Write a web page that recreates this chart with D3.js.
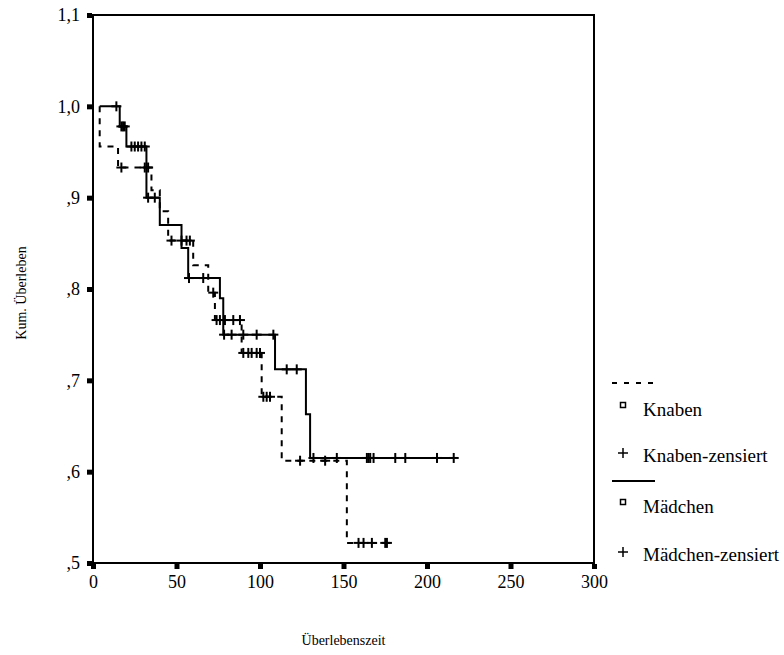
<!DOCTYPE html>
<html>
<head>
<meta charset="utf-8">
<script src="https://cdn.jsdelivr.net/npm/d3@7"></script>
<style>
  html, body { margin: 0; padding: 0; background: #fff; }
  svg { display: block; font-family: "Liberation Serif", "Times New Roman", serif; }
</style>
</head>
<body>
<svg id="chart" width="784" height="655"></svg>
<script>
// Kaplan-Meier survival curves by sex
const startTime = 4;

// Knaben: event times and survival after each event
const knabenEventTimes = [4, 15, 35, 40, 45, 60, 69, 73, 89, 101, 113, 152];
const knabenSurvival   = [0.956, 0.933, 0.908, 0.885, 0.853, 0.826, 0.796, 0.766, 0.730, 0.682, 0.612, 0.522];
const knabenEndTime = 176;
const knabenCensored = [17, 31, 33, 47, 53, 56, 58, 72, 74, 76, 79, 84, 88, 90, 93, 95, 98, 100,
                        102, 104, 106, 124, 139, 159, 162, 167, 175, 176];

// Mädchen: event times and survival after each event
const maedchenEventTimes = [16, 20, 32, 40, 53, 57, 76, 78, 109, 127.5, 130];
const maedchenSurvival   = [0.978, 0.956, 0.900, 0.870, 0.845, 0.812, 0.790, 0.750, 0.712, 0.663, 0.615];
const maedchenEndTime = 216;
const maedchenCensored = [14, 17, 18, 19, 23, 25, 27, 29, 31, 33, 37, 57.5, 66, 78.5, 83, 90, 98, 108,
                          116, 122, 132, 146, 164, 165, 166, 168, 181, 187, 206, 216];

const xTicks = [0, 50, 100, 150, 200, 250, 300];
const yTicks = [0.5, 0.6, 0.7, 0.8, 0.9, 1.0, 1.1];
const yTickLabels = [",5", ",6", ",7", ",8", ",9", "1,0", "1,1"];

const xTitle = "Überlebenszeit";
const yTitle = "Kum. Überleben";
const legendLabels = ["Knaben", "Knaben-zensiert", "Mädchen", "Mädchen-zensiert"];

const svg = d3.select("#chart");
const plotL = 93, plotR = 594, plotT = 15, plotB = 563;

const x = d3.scaleLinear().domain([0, 300]).range([plotL, plotR]);
const y = d3.scaleLinear().domain([0.5, 1.1]).range([plotB, plotT]);

// frame
svg.append("rect")
  .attr("x", plotL).attr("y", plotT)
  .attr("width", plotR - plotL).attr("height", plotB - plotT)
  .attr("fill", "none").attr("stroke", "#000").attr("stroke-width", 2);

// axes with square tick marks
const xAxis = svg.append("g")
  .attr("transform", `translate(0,${plotB})`)
  .call(d3.axisBottom(x).tickValues(xTicks).tickSize(0).tickPadding(12).tickFormat(d3.format("d")));
xAxis.select(".domain").remove();
xAxis.selectAll(".tick text").attr("font-size", 18).attr("fill", "#000")
  .attr("font-family", "Liberation Serif");
xAxis.selectAll(".tick").append("rect")
  .attr("x", -2.5).attr("y", 1).attr("width", 5).attr("height", 5).attr("fill", "#000");

const yAxis = svg.append("g")
  .attr("transform", `translate(${plotL},0)`)
  .call(d3.axisLeft(y).tickValues(yTicks).tickSize(0).tickPadding(13)
    .tickFormat((d, i) => yTickLabels[i]));
yAxis.select(".domain").remove();
yAxis.selectAll(".tick text").attr("font-size", 18).attr("fill", "#000")
  .attr("font-family", "Liberation Serif");
yAxis.selectAll(".tick").append("rect")
  .attr("x", -6).attr("y", -2.5).attr("width", 5).attr("height", 5).attr("fill", "#000");

// axis titles
svg.append("text")
  .attr("x", (plotL + plotR) / 2).attr("y", 645)
  .attr("text-anchor", "middle").attr("font-size", 14)
  .text(xTitle);
svg.append("text")
  .attr("transform", `translate(26,${(plotT + plotB) / 2 + 4}) rotate(-90)`)
  .attr("text-anchor", "middle").attr("font-size", 14)
  .text(yTitle);

// build step curve points from event table
function curvePoints(times, surv, endTime) {
  const pts = [[startTime, 1.0]];
  times.forEach((t, i) => pts.push([t, surv[i]]));
  pts.push([endTime, surv[surv.length - 1]]);
  return pts;
}
function survivalAt(times, surv, t) {
  let s = 1.0;
  times.forEach((et, i) => { if (et <= t) s = surv[i]; });
  return s;
}

const stepLine = d3.line()
  .x(d => x(d[0])).y(d => y(d[1]))
  .curve(d3.curveStepAfter);

const series = [
  { times: knabenEventTimes, surv: knabenSurvival, end: knabenEndTime, cens: knabenCensored, dash: "6,6" },
  { times: maedchenEventTimes, surv: maedchenSurvival, end: maedchenEndTime, cens: maedchenCensored, dash: null }
];

const plusHalf = 5;
series.forEach(s => {
  svg.append("path")
    .attr("d", stepLine(curvePoints(s.times, s.surv, s.end)))
    .attr("fill", "none").attr("stroke", "#000").attr("stroke-width", 2)
    .attr("stroke-dasharray", s.dash);

  const g = svg.append("g").attr("stroke", "#000").attr("stroke-width", 2);
  s.cens.forEach(t => {
    const cx = x(t), cy = y(survivalAt(s.times, s.surv, t));
    g.append("line").attr("x1", cx - plusHalf).attr("x2", cx + plusHalf).attr("y1", cy).attr("y2", cy);
    g.append("line").attr("x1", cx).attr("x2", cx).attr("y1", cy - plusHalf).attr("y2", cy + plusHalf);
  });
});

// legend
const lg = svg.append("g").attr("font-size", 19);
const lx0 = 612, lx1 = 655, symX = 623, textX = 643;
const legendRows = [
  { lineY: 383, dash: "5,7" , sqY: 405, sqLabel: legendLabels[0], plusY: 453, plusLabel: legendLabels[1] },
  { lineY: 481, dash: null, sqY: 502, sqLabel: legendLabels[2], plusY: 552, plusLabel: legendLabels[3] }
];
legendRows.forEach(r => {
  lg.append("line").attr("x1", lx0).attr("x2", lx1).attr("y1", r.lineY).attr("y2", r.lineY)
    .attr("stroke", "#000").attr("stroke-width", 2).attr("stroke-dasharray", r.dash);
  lg.append("rect").attr("x", symX - 2.5).attr("y", r.sqY - 2.5).attr("width", 5).attr("height", 5)
    .attr("fill", "none").attr("stroke", "#000").attr("stroke-width", 1.5);
  lg.append("text").attr("x", textX).attr("y", r.sqY + 11).text(r.sqLabel);
  lg.append("line").attr("x1", symX - 5).attr("x2", symX + 5).attr("y1", r.plusY).attr("y2", r.plusY)
    .attr("stroke", "#000").attr("stroke-width", 1.5);
  lg.append("line").attr("x1", symX).attr("x2", symX).attr("y1", r.plusY - 5).attr("y2", r.plusY + 5)
    .attr("stroke", "#000").attr("stroke-width", 1.5);
  lg.append("text").attr("x", textX).attr("y", r.plusY + 9).text(r.plusLabel);
});
</script>
</body>
</html>
